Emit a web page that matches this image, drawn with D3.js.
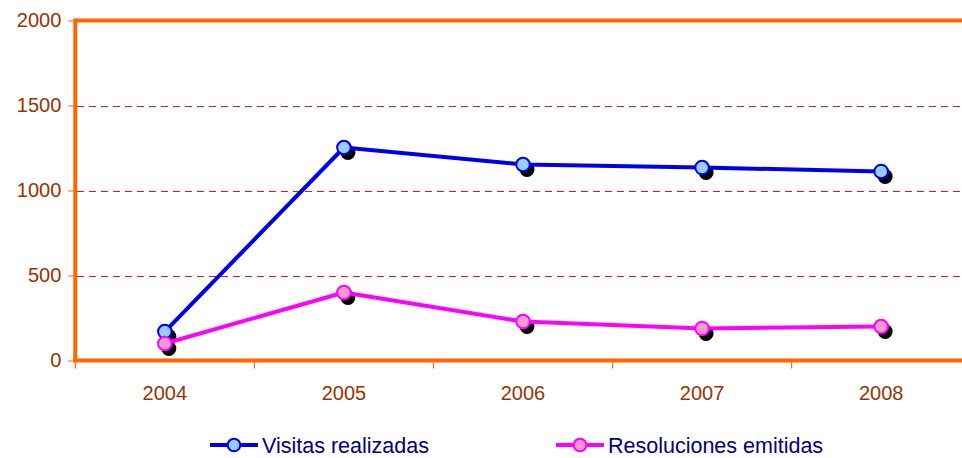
<!DOCTYPE html>
<html>
<head>
<meta charset="utf-8">
<script src="https://cdn.jsdelivr.net/npm/d3@7"></script>
<style>
  body { margin: 0; background: #fff; }
  svg { display: block; font-family: "Liberation Sans", Arial, sans-serif; }
</style>
</head>
<body>
<div id="chart"></div>
<script>
// Data
const years = ["2004", "2005", "2006", "2007", "2008"];
const visitas = [170, 1253, 1153, 1135, 1112];
const resoluciones = [100, 400, 229, 188, 200];
const yTicks = [0, 500, 1000, 1500, 2000];
const seriesNames = ["Visitas realizadas", "Resoluciones emitidas"];

const W = 962, H = 458;
const orange = "#ff6600";
const labelColor = "#993300";

const svg = d3.select("#chart").append("svg")
    .attr("width", W)
    .attr("height", H);

// scales
const x = d3.scaleBand().domain(years).range([75.3, 970.7]);
const y = d3.scaleLinear().domain([0, 2000]).range([360.5, 20.5]);

// dashed gridlines (not at 0 / 2000)
svg.append("g")
    .selectAll("line")
    .data(yTicks.filter(d => d > 0 && d < 2000))
    .enter().append("line")
    .attr("x1", 77).attr("x2", W)
    .attr("y1", d => Math.round(y(d)) + 0.5)
    .attr("y2", d => Math.round(y(d)) + 0.5)
    .attr("stroke", "#ee1111")
    .attr("stroke-width", 1)
    .attr("stroke-dasharray", "7,5");

// y axis
const yAxis = svg.append("g")
    .attr("transform", "translate(75.3,0)")
    .call(d3.axisLeft(y).tickValues(yTicks).tickFormat(d3.format("d")).tickSize(7).tickPadding(7));
yAxis.select(".domain").remove();
yAxis.selectAll(".tick line").attr("stroke", orange).attr("stroke-width", 1).attr("x2", -7);
yAxis.selectAll(".tick text")
    .attr("fill", labelColor)
    .attr("font-size", 20)
    .attr("font-family", "Liberation Sans, Arial, sans-serif");

// x axis: ticks at band edges
const edges = years.map(d => x(d)).concat([x.range()[1]]);
const xAxis = svg.append("g").attr("transform", "translate(0,360.5)");
xAxis.selectAll("line")
    .data(edges)
    .enter().append("line")
    .attr("x1", d => d).attr("x2", d => d)
    .attr("y1", 2).attr("y2", 8)
    .attr("stroke", orange)
    .attr("stroke-width", 1.2);
xAxis.selectAll("text")
    .data(years)
    .enter().append("text")
    .attr("x", d => x(d) + x.bandwidth() / 2)
    .attr("y", 39)
    .attr("text-anchor", "middle")
    .attr("fill", labelColor)
    .attr("font-size", 20)
    .text(d => d);

// plot frame (left, top, bottom)
svg.append("line").attr("x1", 75.3).attr("x2", W).attr("y1", y(2000)).attr("y2", y(2000))
    .attr("stroke", orange).attr("stroke-width", 4);
svg.append("line").attr("x1", 73.3).attr("x2", W).attr("y1", y(0)).attr("y2", y(0))
    .attr("stroke", orange).attr("stroke-width", 4);
svg.append("line").attr("x1", 75.3).attr("x2", 75.3).attr("y1", y(2000) - 2).attr("y2", y(0) + 2)
    .attr("stroke", orange).attr("stroke-width", 4);

const series = [
    { name: seriesNames[0], values: visitas, line: "#0000ee", fill: "#99ccff" },
    { name: seriesNames[1], values: resoluciones, line: "#ff00ff", fill: "#ff99cc" }
];

const cx = (d, i) => x(years[i]) + x.bandwidth() / 2;
const lineGen = d3.line().x((d, i) => cx(d, i)).y(d => y(d));

// shadows first, so lines and markers sit on top
series.forEach(s => {
    svg.append("g").selectAll("circle")
        .data(s.values)
        .enter().append("circle")
        .attr("cx", (d, i) => cx(d, i) + 4)
        .attr("cy", d => y(d) + 5)
        .attr("r", 7.5)
        .attr("fill", "#000");
});

series.forEach(s => {
    svg.append("path")
        .datum(s.values)
        .attr("d", lineGen)
        .attr("fill", "none")
        .attr("stroke", s.line)
        .attr("stroke-width", 4)
        .attr("stroke-linejoin", "round");
    svg.append("g").selectAll("circle")
        .data(s.values)
        .enter().append("circle")
        .attr("cx", (d, i) => cx(d, i))
        .attr("cy", d => y(d))
        .attr("r", 6.8)
        .attr("fill", s.fill)
        .attr("stroke", s.line)
        .attr("stroke-width", 2);
});

// legend
const legendX = [210, 556];
const legend = svg.append("g").selectAll("g")
    .data(series)
    .enter().append("g")
    .attr("transform", (d, i) => "translate(" + legendX[i] + ",445)");
legend.append("line")
    .attr("x1", 0).attr("x2", 48)
    .attr("stroke", d => d.line)
    .attr("stroke-width", 4);
legend.append("circle")
    .attr("cx", 24).attr("r", 6.3)
    .attr("fill", d => d.fill)
    .attr("stroke", d => d.line)
    .attr("stroke-width", 2);
legend.append("text")
    .attr("x", 52)
    .attr("y", 8)
    .attr("fill", "#000080")
    .attr("font-size", 21.5)
    .text(d => d.name);
</script>
</body>
</html>
